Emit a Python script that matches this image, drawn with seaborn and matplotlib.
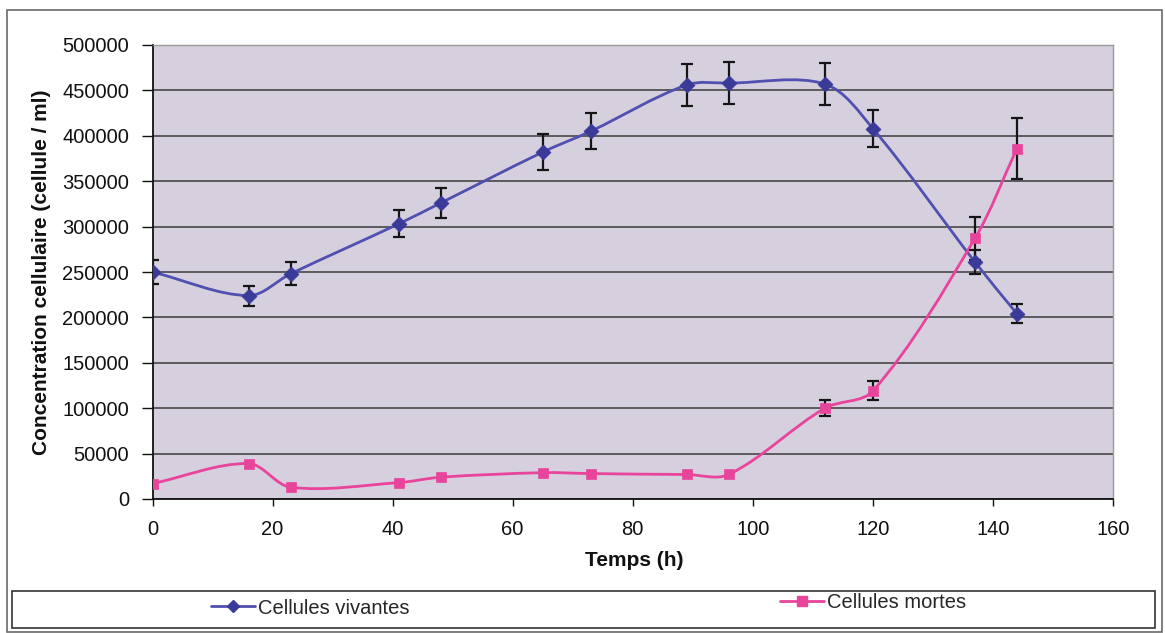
import numpy as np
import pandas as pd
import matplotlib
matplotlib.use("Agg")
import matplotlib.pyplot as plt
import seaborn as sns
from matplotlib.path import Path
from matplotlib.patches import PathPatch, Rectangle
from matplotlib.lines import Line2D

# ---- data ----
temps = [0, 16, 23, 41, 48, 65, 73, 89, 96, 112, 120, 137, 144]
vivantes = [250000, 224000, 248000, 303000, 326000, 382000, 405000,
            456000, 458000, 457000, 408000, 261000, 204000]
vivantes_err = [13000, 11000, 12500, 15000, 16500, 20000, 20000,
                23000, 23000, 23000, 20000, 13000, 10500]
mortes = [17000, 39000, 13000, 18000, 24000, 29000, 28000,
          27000, 27000, 100000, 119000, 287000, 386000]
mortes_err = [0, 0, 0, 0, 0, 0, 0,
              0, 0, 9000, 10500, 24000, 34000]
y_ticks = list(range(0, 500001, 50000))
x_ticks = list(range(0, 161, 20))
series_names = ["Cellules vivantes", "Cellules mortes"]

BLUE_LINE = "#5050B0"
BLUE_MARK = "#3A3A98"
PINK = "#E8449C"

sns.set_theme(style="white")
plt.rcParams["font.family"] = ["Liberation Sans", "DejaVu Sans"]

W, H = 1165, 633
fig = plt.figure(figsize=(W / 100, H / 100), dpi=100)
fig.patch.set_facecolor("white")

L, R, T, B = 152.5, 1113, 45, 499
ax = fig.add_axes([L / W, 1 - B / H, (R - L) / W, (B - T) / H])
ax.set_facecolor("#D6D0DE")
ax.set_xlim(0, 160)
ax.set_ylim(0, 500000)


def smooth_path(xs, ys):
    """Chord-length Catmull-Rom smoothing (done in display space) as Bezier segments."""
    pd_ = ax.transData.transform(np.column_stack([xs, ys]).astype(float))
    n = len(pd_)
    verts = [pd_[0]]
    codes = [Path.MOVETO]
    d = np.linalg.norm(np.diff(pd_, axis=0), axis=1)
    for i in range(n - 1):
        p1, p2 = pd_[i], pd_[i + 1]
        if i > 0:
            p0 = pd_[i - 1]
            c1 = p1 + (p2 - p0) * d[i] / (3.0 * (d[i - 1] + d[i]))
        else:
            c1 = p1 + (p2 - p1) / 3.0
        if i + 2 < n:
            p3 = pd_[i + 2]
            c2 = p2 - (p3 - p1) * d[i] / (3.0 * (d[i] + d[i + 1]))
        else:
            c2 = p2 - (p2 - p1) / 3.0
        verts += [c1, c2, p2]
        codes += [Path.CURVE4] * 3
    verts = ax.transData.inverted().transform(np.array(verts))
    return Path(verts, codes)


df = pd.DataFrame({"temps": temps * 2,
                   "valeur": vivantes + mortes,
                   "err": vivantes_err + mortes_err,
                   "serie": [series_names[0]] * len(temps) + [series_names[1]] * len(temps)})

# smoothed lines
for name, col in [(series_names[0], BLUE_LINE), (series_names[1], PINK)]:
    d = df[df.serie == name]
    ax.add_patch(PathPatch(smooth_path(d.temps.values, d.valeur.values),
                           facecolor="none", edgecolor=col, lw=2.0, zorder=3,
                           capstyle="round", joinstyle="round"))

# error bars (only where visible in the reference)
for name in series_names:
    d = df[(df.serie == name) & (df.err > 0)]
    ax.errorbar(d.temps, d.valeur, yerr=d.err, fmt="none", ecolor="#151515",
                elinewidth=1.6, capsize=4.5, capthick=1.6, zorder=4)

# markers
sns.scatterplot(data=df[df.serie == series_names[0]], x="temps", y="valeur",
                marker="D", s=58, color=BLUE_MARK, edgecolor=BLUE_MARK,
                linewidth=0.5, ax=ax, zorder=5, legend=False)
sns.scatterplot(data=df[df.serie == series_names[1]], x="temps", y="valeur",
                marker="s", s=55, color=PINK, edgecolor=PINK,
                linewidth=0.5, ax=ax, zorder=5, legend=False)

ax.set_xlim(0, 160)
ax.set_ylim(0, 500000)
ax.set_xticks(x_ticks)
ax.set_yticks(y_ticks)
ax.set_xticklabels([str(v) for v in x_ticks])
ax.set_yticklabels([str(v) for v in y_ticks])
ax.yaxis.grid(True, color="#3a3a3a", lw=1.1)
ax.xaxis.grid(False)
ax.set_axisbelow(True)
ax.set_xlabel("")
ax.set_ylabel("")

for s in ["left", "bottom"]:
    ax.spines[s].set_color("#111111")
    ax.spines[s].set_linewidth(1.3)
for s in ["top", "right"]:
    ax.spines[s].set_color("#9a9a9a")
    ax.spines[s].set_linewidth(1.0)

ax.tick_params(axis="y", direction="out", length=8, width=1.0, color="#111111",
               labelsize=14.5, pad=9, left=True, labelcolor="#111111")
ax.tick_params(axis="x", direction="out", length=5, width=1.0, color="#111111",
               labelsize=14.5, pad=10, bottom=True, labelcolor="#111111")

# axis titles
fig.text(634 / W, 1 - 560 / H, "Temps (h)", ha="center", va="center",
         fontsize=15, fontweight="bold", color="#111111")
fig.text(42 / W, 1 - 272 / H, "Concentration cellulaire (cellule / ml)",
         ha="center", va="center", rotation=90, fontsize=15,
         fontweight="bold", color="#111111")

# outer chart border and legend box
fig.patches.append(Rectangle((7 / W, 1 - 632 / H), (1162 - 7) / W, (632 - 10) / H,
                             transform=fig.transFigure, facecolor="none",
                             edgecolor="#6a6a6a", lw=1.2, zorder=0))
fig.patches.append(Rectangle((12 / W, 1 - 628 / H), (1155 - 12) / W, (628 - 591) / H,
                             transform=fig.transFigure, facecolor="none",
                             edgecolor="#333333", lw=1.2, zorder=1))

h1 = Line2D([], [], color=BLUE_LINE, lw=2, marker="D", markersize=6.5,
            markerfacecolor=BLUE_MARK, markeredgecolor=BLUE_MARK)
h2 = Line2D([], [], color=PINK, lw=2, marker="s", markersize=6.5,
            markerfacecolor=PINK, markeredgecolor=PINK)
leg1 = fig.legend([h1], [series_names[0]], loc="center left",
                  bbox_to_anchor=(211 / W, 1 - 608 / H), frameon=False,
                  fontsize=14.5, handlelength=2.2, handletextpad=0.15,
                  borderpad=0, borderaxespad=0)
leg2 = fig.legend([h2], [series_names[1]], loc="center left",
                  bbox_to_anchor=(780 / W, 1 - 603 / H), frameon=False,
                  fontsize=14.5, handlelength=2.2, handletextpad=0.15,
                  borderpad=0, borderaxespad=0)

fig.savefig("out.png", dpi=100, facecolor="white")
